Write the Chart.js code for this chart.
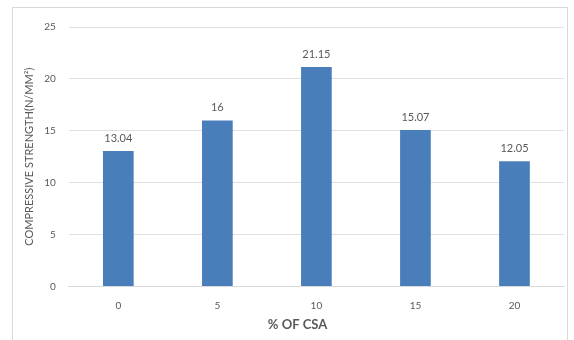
<!DOCTYPE html>
<html>
<head>
<meta charset="utf-8">
<script src="https://cdn.jsdelivr.net/npm/chart.js@4/dist/chart.umd.min.js"></script>
<style>
  html, body { margin: 0; padding: 0; background: #ffffff; }
  body { width: 574px; height: 340px; position: relative; overflow: hidden; }
  #frame {
    position: absolute; left: 12px; top: 7px; width: 556px; height: 340px;
    border: 1px solid #d9d9d9; box-sizing: border-box; background: #fff;
  }
  #wrap { position: absolute; left: 0; top: 0; width: 554px; height: 333px; }
</style>
</head>
<body>
<div id="frame"><div id="wrap"><canvas id="c"></canvas></div></div>
<script>
// Compressive strength for each CSA replacement level
const categories = ['0', '5', '10', '15', '20'];
const strengthValues = [13.04, 16, 21.15, 15.07, 12.05];
const valueLabels = ['13.04', '16', '21.15', '15.07', '12.05'];
const yTicks = [0, 5, 10, 15, 20, 25];

const textGrey = '#595959';
const fontFamily = 'Lato, "Liberation Sans", sans-serif';

// Writes each bar's value just above its top
const barValueLabels = {
  id: 'barValueLabels',
  afterDatasetsDraw(chart) {
    const ctx = chart.ctx;
    const meta = chart.getDatasetMeta(0);
    ctx.save();
    ctx.font = '11px ' + fontFamily;
    ctx.fillStyle = textGrey;
    ctx.textAlign = 'center';
    ctx.textBaseline = 'bottom';
    meta.data.forEach((bar, i) => {
      ctx.fillText(valueLabels[i], bar.x, bar.y - 7);
    });
    ctx.restore();
  }
};

new Chart(document.getElementById('c'), {
  type: 'bar',
  data: {
    labels: categories,
    datasets: [{
      data: strengthValues,
      backgroundColor: '#4a7ebb',
      borderWidth: 0,
      barPercentage: 0.62,
      categoryPercentage: 0.5
    }]
  },
  options: {
    responsive: true,
    maintainAspectRatio: false,
    animation: false,
    layout: { padding: { left: 10, right: 3, top: 17, bottom: 8 } },
    plugins: { legend: { display: false }, tooltip: { enabled: false } },
    scales: {
      x: {
        grid: { display: false, drawTicks: false },
        border: { display: true, color: '#d9d9d9' },
        ticks: { color: textGrey, font: { size: 10, family: fontFamily }, padding: 13 },
        title: {
          display: true, text: '% OF CSA' + '\u2007'.repeat(5), color: textGrey,
          font: { size: 13, weight: 'bold', family: fontFamily }, padding: { top: -7, bottom: 0 }
        }
      },
      y: {
        min: 0, max: 25,
        afterBuildTicks(axis) { axis.ticks = yTicks.map(v => ({ value: v })); },
        grid: { color: '#e0e0e0', drawTicks: false },
        border: { display: false },
        ticks: { color: textGrey, font: { size: 10, family: fontFamily }, padding: 13 },
        title: {
          display: true, text: 'COMPRESSIVE STRENGTH(N/MM²)', color: textGrey,
          font: { size: 11, family: fontFamily }, padding: { top: 0, bottom: -5 }
        }
      }
    }
  },
  plugins: [barValueLabels]
});
</script>
</body>
</html>
